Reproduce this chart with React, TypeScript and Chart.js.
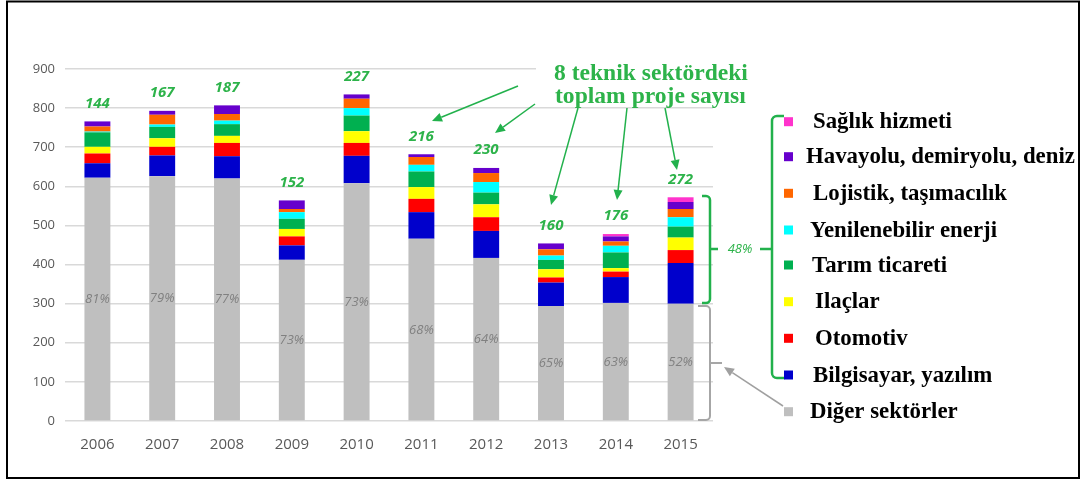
import { useEffect, useRef } from 'react';
import { Chart, registerables } from 'chart.js';

Chart.register(...registerables);

const years = ['2006', '2007', '2008', '2009', '2010', '2011', '2012', '2013', '2014', '2015'];
const diger = [622, 626, 620, 412, 608, 466, 417, 294, 302, 300];
const bilgisayar = [37, 53, 57, 37, 70, 68, 69, 60, 66, 104];
const otomotiv = [25, 22, 34, 23, 33, 34, 35, 13, 14, 33];
const ilaclar = [17, 22, 18, 19, 30, 30, 33, 21, 9, 32];
const tarim = [37, 29, 30, 26, 40, 40, 30, 24, 40, 28];
const yenilenebilir = [2, 6, 9, 17, 19, 17, 27, 11, 17, 24];
const lojistik = [13, 25, 17, 8, 24, 20, 23, 16, 11, 21];
const havayolu = [13, 10, 22, 22, 11, 7, 13, 15, 13, 18];
const saglik = [0, 0, 0, 0, 0, 0, 0, 0, 6, 12];
const digerShare = ['81%', '79%', '77%', '73%', '73%', '68%', '64%', '65%', '63%', '52%'];
const yTicks = [0, 100, 200, 300, 400, 500, 600, 700, 800, 900];

const series = [
  { label: 'Diğer sektörler', data: diger, color: '#bfbfbf' },
  { label: 'Bilgisayar, yazılım', data: bilgisayar, color: '#0000cc' },
  { label: 'Otomotiv', data: otomotiv, color: '#ff0000' },
  { label: 'Ilaçlar', data: ilaclar, color: '#ffff00' },
  { label: 'Tarım ticareti', data: tarim, color: '#00b050' },
  { label: 'Yenilenebilir enerji', data: yenilenebilir, color: '#00ffff' },
  { label: 'Lojistik, taşımacılık', data: lojistik, color: '#ff6600' },
  { label: 'Havayolu, demiryolu, deniz', data: havayolu, color: '#6600cc' },
  { label: 'Sağlık hizmeti', data: saglik, color: '#ff33cc' },
];

const titleLines = ['8 teknik sektördeki', 'toplam proje sayısı'];
const shareLabel = '48%';

const SERIF = "'Liberation Serif', 'Times New Roman', serif";
const SANS = "'Open Sans', 'Liberation Sans', sans-serif";
const GREEN = '#22b14c';
const TXT_GREEN = '#2db34a';

function arrow(ctx: CanvasRenderingContext2D, x1: number, y1: number, x2: number, y2: number, color: string) {
  const ang = Math.atan2(y2 - y1, x2 - x1);
  const hl = 10, hw = 4.5;
  const bx = x2 - hl * Math.cos(ang), by = y2 - hl * Math.sin(ang);
  ctx.save();
  ctx.strokeStyle = color;
  ctx.fillStyle = color;
  ctx.lineWidth = 1.5;
  ctx.beginPath();
  ctx.moveTo(x1, y1);
  ctx.lineTo(bx, by);
  ctx.stroke();
  ctx.beginPath();
  ctx.moveTo(x2, y2);
  ctx.lineTo(bx + hw * Math.sin(ang), by - hw * Math.cos(ang));
  ctx.lineTo(bx - hw * Math.sin(ang), by + hw * Math.cos(ang));
  ctx.closePath();
  ctx.fill();
  ctx.restore();
}

const overlay = {
  id: 'overlay',
  afterDraw(chart: any) {
    const ctx: CanvasRenderingContext2D = chart.ctx;
    const xs = chart.scales.x;
    const ys = chart.scales.y;
    ctx.save();

    // white box behind title covering top gridline
    ctx.fillStyle = '#ffffff';
    ctx.fillRect(536, 62, 180, 12);

    // totals and shares
    years.forEach((_, i) => {
      const x = xs.getPixelForValue(i);
      let tech = 0;
      for (let s = 1; s < series.length; s++) tech += series[s].data[i];
      const top = ys.getPixelForValue(diger[i] + tech);
      ctx.fillStyle = TXT_GREEN;
      ctx.font = `italic bold 15px ${SANS}`;
      ctx.textAlign = 'center';
      ctx.textBaseline = 'middle';
      ctx.fillText(String(tech), x, top - 18);
      ctx.fillStyle = '#808080';
      ctx.font = `italic 13px ${SANS}`;
      ctx.fillText(digerShare[i], x, ys.getPixelForValue(diger[i] / 2));
    });

    // title
    ctx.fillStyle = TXT_GREEN;
    ctx.font = `bold 20px ${SERIF}`;
    const tw = ctx.measureText(titleLines[0]).width;
    const tSize = (20 * 194) / tw;
    ctx.font = `bold ${tSize}px ${SERIF}`;
    ctx.textAlign = 'left';
    ctx.textBaseline = 'alphabetic';
    ctx.fillText(titleLines[0], 554, 79.5);
    ctx.fillText(titleLines[1], 555, 103);

    // arrows
    arrow(ctx, 518, 86, 432, 121, GREEN);
    arrow(ctx, 535, 104, 495, 133, GREEN);
    arrow(ctx, 578, 108, 551, 205, GREEN);
    arrow(ctx, 627, 108, 617, 200, GREEN);
    arrow(ctx, 665, 108, 677, 170, GREEN);

    // green brackets
    ctx.strokeStyle = GREEN;
    ctx.lineWidth = 2.5;
    ctx.beginPath();
    ctx.moveTo(702, 196);
    ctx.arcTo(710, 196, 710, 303, 4);
    ctx.arcTo(710, 303, 702, 303, 4);
    ctx.lineTo(702, 303);
    ctx.moveTo(710, 249);
    ctx.lineTo(718, 249);
    ctx.stroke();

    ctx.beginPath();
    ctx.moveTo(784, 116);
    ctx.arcTo(772, 116, 772, 378, 5);
    ctx.arcTo(772, 378, 785, 378, 5);
    ctx.lineTo(785, 378);
    ctx.moveTo(772, 249);
    ctx.lineTo(760, 249);
    ctx.stroke();

    ctx.fillStyle = TXT_GREEN;
    ctx.font = `italic 13px ${SANS}`;
    ctx.textAlign = 'center';
    ctx.textBaseline = 'middle';
    ctx.fillText(shareLabel, 740, 249);

    // gray bracket
    ctx.strokeStyle = '#a6a6a6';
    ctx.lineWidth = 2;
    ctx.beginPath();
    ctx.moveTo(698, 306);
    ctx.arcTo(710, 306, 710, 420, 4);
    ctx.arcTo(710, 420, 698, 420, 4);
    ctx.lineTo(698, 420);
    ctx.moveTo(710, 363);
    ctx.lineTo(722, 363);
    ctx.stroke();
    arrow(ctx, 783, 406, 724, 367, '#a0a0a0');

    // legend
    const legendY = [121.7, 156.7, 193.3, 230, 265, 301.7, 338.3, 375, 411.7];
    const legendX = [813, 806, 813, 810, 812, 815, 815, 813, 810];
    ctx.font = `bold 20px ${SERIF}`;
    const lw = ctx.measureText('Havayolu, demiryolu, deniz').width;
    const lSize = (20 * 269) / lw;
    ctx.font = `bold ${lSize}px ${SERIF}`;
    ctx.textAlign = 'left';
    ctx.textBaseline = 'alphabetic';
    const rev = [...series].reverse();
    rev.forEach((s, k) => {
      ctx.fillStyle = s.color;
      ctx.fillRect(784, legendY[k] - 4.5, 9, 9);
      ctx.fillStyle = '#000000';
      ctx.fillText(s.label, legendX[k], legendY[k] + 6.5);
    });

    // frame
    ctx.strokeStyle = '#000000';
    ctx.lineWidth = 2;
    ctx.strokeRect(7, 1.5, 1072, 476.5);
    ctx.restore();
  },
};

export default function App() {
  const ref = useRef<HTMLCanvasElement | null>(null);
  useEffect(() => {
    if (!ref.current) return;
    const chart = new Chart(ref.current, {
      type: 'bar',
      data: {
        labels: years,
        datasets: series.map((s) => ({
          label: s.label,
          data: s.data,
          backgroundColor: s.color,
          borderWidth: 0,
          barPercentage: 0.4,
          categoryPercentage: 1,
        })),
      },
      options: {
        responsive: false,
        animation: false,
        devicePixelRatio: 1,
        layout: { padding: { left: 0, top: 69, right: 375, bottom: 0 } },
        plugins: { legend: { display: false }, tooltip: { enabled: false } },
        scales: {
          x: {
            stacked: true,
            grid: { display: false },
            border: { display: false },
            ticks: { color: '#595959', font: { family: SANS, size: 15 }, padding: 7 },
            afterFit: (s: any) => { s.height = 58; },
          },
          y: {
            stacked: true,
            min: 0,
            max: 900,
            afterBuildTicks: (s: any) => { s.ticks = yTicks.map((v) => ({ value: v })); },
            grid: { color: '#d9d9d9', drawTicks: false, lineWidth: 1.5 },
            border: { display: false },
            ticks: { color: '#595959', font: { family: SANS, size: 13 }, padding: 10 },
            afterFit: (s: any) => { s.width = 65; },
          },
        },
      },
      plugins: [overlay],
    });
    return () => chart.destroy();
  }, []);
  return (
    <div style={{ position: 'absolute', left: 0, top: 0, width: 1088, height: 479, background: '#fff' }}>
      <canvas ref={ref} width={1088} height={479} style={{ width: 1088, height: 479, display: 'block' }} />
    </div>
  );
}
